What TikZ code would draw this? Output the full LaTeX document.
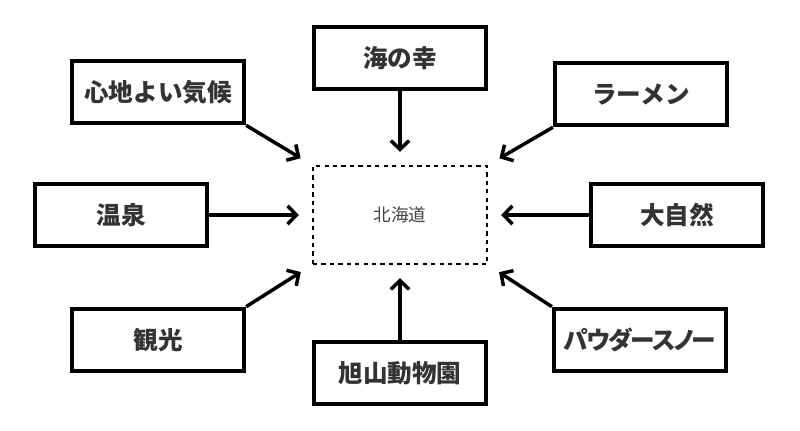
\documentclass[tikz,border=0pt]{standalone}
\usepackage{fontspec}
\usepackage{tikz}
\usetikzlibrary{arrows.meta}
\newfontfamily\jpfont{Noto Sans CJK JP}
\newfontfamily\jpnarrow[RawFeature=+palt,LetterSpace=-6]{Noto Sans CJK JP}
\definecolor{LabelGray}{HTML}{333333}
\definecolor{HubGray}{HTML}{444444}

\begin{document}
\begin{tikzpicture}[x=0.025cm,y=-0.025cm,
  item/.style={draw=black,line width=3pt,fill=white,minimum width=4.3cm,minimum height=1.56cm,
    inner sep=0pt,font=\jpfont\bfseries\fontsize{17.5}{20}\selectfont,text=LabelGray},
  hub/.style={draw=black,dashed,line width=1.4pt,minimum width=4.35cm,minimum height=2.45cm,
    inner sep=0pt,font=\jpfont\fontsize{12.5}{15}\selectfont,text=HubGray},
  feed/.style={-{Straight Barb[length=0.22cm,width=0.46cm,line width=2.5pt]},line width=2.5pt,shorten >=0.33cm}]
  \useasboundingbox (0,0) rectangle (800,431);
  \node[hub] (hokkaido) at (400,215) {北海道};
  \node[item] (umi) at (400,58) {海の幸};
  \node[item] (kiko) at (158,92) {心地よい気候};
  \node[item] (ramen) at (641,94) {ラーメン};
  \node[item] (onsen) at (121,215) {温泉};
  \node[item] (shizen) at (677,215) {大自然};
  \node[item] (kanko) at (158,340) {観光};
  \node[item] (asahiyama) at (400,373) {旭山動物園};
  \node[item,font=\jpnarrow\bfseries\fontsize{17.5}{20}\selectfont] (powder) at (640,340) {パウダースノー};
  \draw[feed] (umi.south) -- (hokkaido.north);
  \draw[feed] (asahiyama.north) -- (hokkaido.south);
  \draw[feed] (onsen.east) -- (hokkaido.west);
  \draw[feed] (shizen.west) -- (hokkaido.east);
  \draw[feed] (kiko.south east) -- (hokkaido.north west);
  \draw[feed] (ramen.south west) -- (hokkaido.north east);
  \draw[feed] (kanko.north east) -- (hokkaido.south west);
  \draw[feed] (powder.north west) -- (hokkaido.south east);
\end{tikzpicture}
\end{document}
